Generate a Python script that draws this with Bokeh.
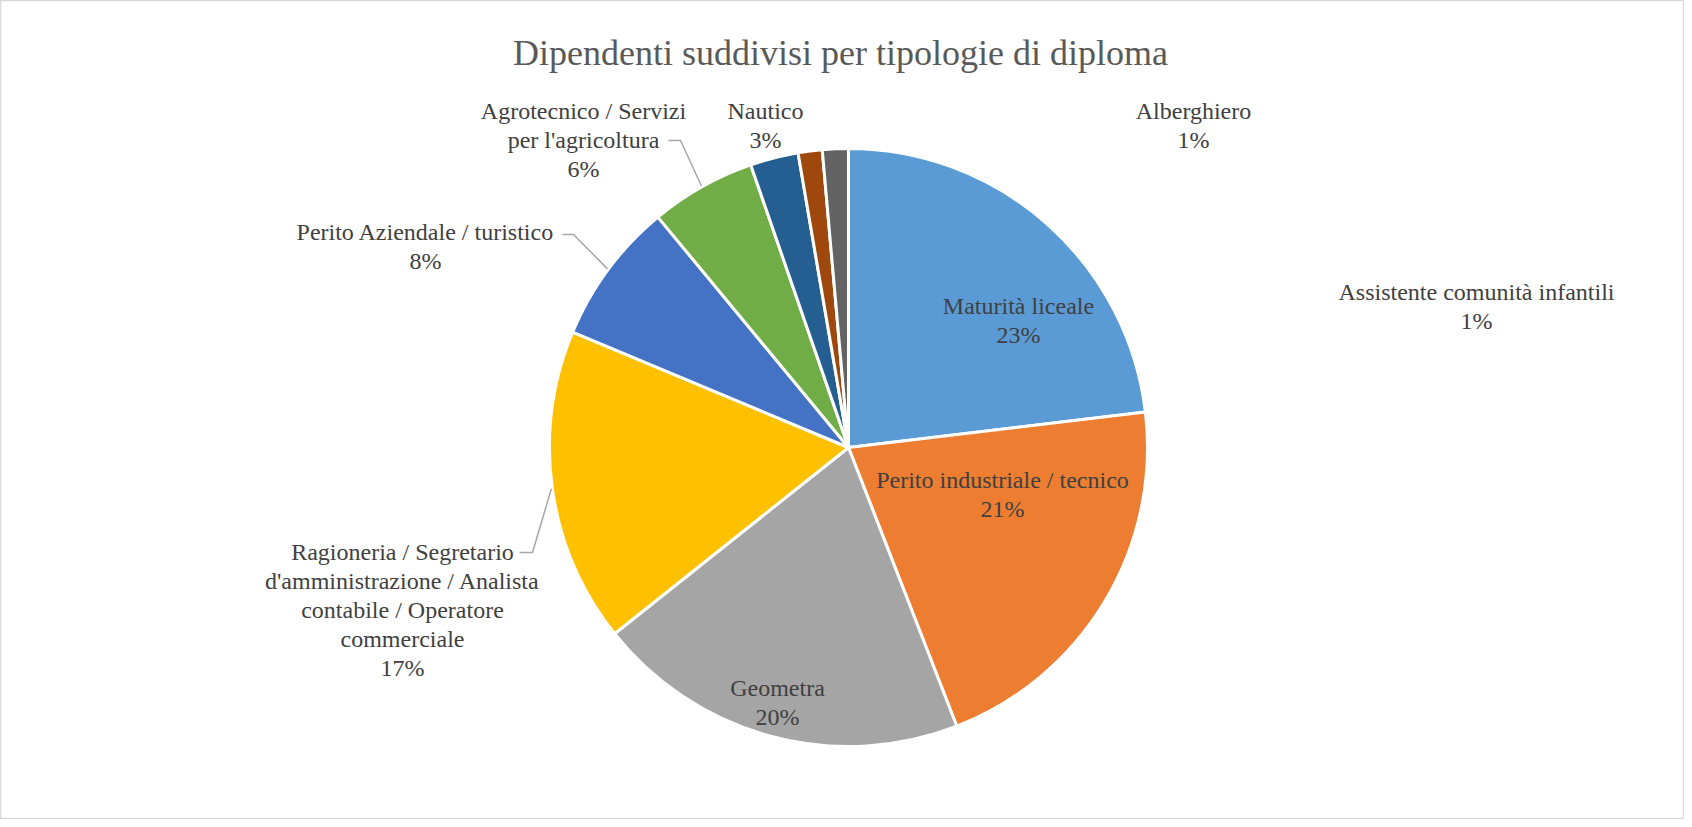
import numpy as np
from bokeh.plotting import figure
from bokeh.models import ColumnDataSource, Range1d
from bokeh.core.properties import value
from bokeh.embed import file_html
from bokeh.resources import INLINE

# ---------------- data ----------------
categories = [
    "Maturità liceale",
    "Perito industriale / tecnico",
    "Geometra",
    "Ragioneria / Segretario\nd'amministrazione / Analista\ncontabile / Operatore\ncommerciale",
    "Perito Aziendale / turistico",
    "Agrotecnico / Servizi\nper l'agricoltura",
    "Nautico",
    "Alberghiero",
    "Assistente comunità infantili",
]
shares = [23.1, 21.0, 20.2, 17.0, 7.7, 5.7, 2.6, 1.3, 1.4]
colors = ["#5B9BD5", "#ED7D31", "#A5A5A5", "#FFC000", "#4472C4",
          "#70AD47", "#255E91", "#9E480E", "#636363"]
title_text = "Dipendenti suddivisi per tipologie di diploma"

# ---------------- layout (reference pixel coords, y down) ----------------
W, H = 1684, 819
CX, CY, R = 848, 447, 299
LINE_H = 29
label_anchor = [(1018, 305), (1002, 479), (777, 687), (402, 551), (425, 231),
                (583, 110), (765, 110), (1193, 110), (1476, 291)]
# leader line start points (label side) per category index
leaders = {3: [(519, 552), (532, 552)],
           4: [(562, 234), (573, 234)],
           5: [(668, 140), (680, 140)]}

def Y(y):
    return H - y  # convert y-down pixel to y-up data

p = figure(width=W, height=H, output_backend="svg", toolbar_location=None,
           x_range=Range1d(0, W), y_range=Range1d(0, H),
           min_border=0, background_fill_color="white",
           border_fill_color="white", outline_line_color="#D9D9D9",
           outline_line_width=1.5)
p.axis.visible = False
p.grid.visible = False

vals = np.array(shares, dtype=float)
frac = vals / vals.sum()
cum = np.cumsum(frac)
before = cum - frac
start = np.pi / 2 - 2 * np.pi * before
end = np.pi / 2 - 2 * np.pi * cum
mid = (start + end) / 2

src = ColumnDataSource(dict(start=start, end=end, color=colors, cat=categories))
p.wedge(x=CX, y=Y(CY), radius=R, start_angle="start", end_angle="end",
        direction="clock", fill_color="color", line_color="white",
        line_width=3, source=src)

# leader lines
for i, pts in leaders.items():
    ex = CX + (R + 1) * np.cos(mid[i])
    ey = Y(CY) + (R + 1) * np.sin(mid[i])
    xs = [pt[0] for pt in pts] + [ex]
    ys = [Y(pt[1]) for pt in pts] + [ey]
    p.line(xs, ys, line_color="#A6A6A6", line_width=1.5)

# labels
tx, ty, tt = [], [], []
for i, cat in enumerate(categories):
    lines = cat.split("\n") + [f"{round(shares[i])}%"]
    ax, ay = label_anchor[i]
    for k, ln in enumerate(lines):
        tx.append(ax)
        ty.append(Y(ay + k * LINE_H))
        tt.append(ln)
p.text(x=tx, y=ty, text=tt, text_font=value("Liberation Serif"),
       text_font_size="24px", text_color="#404040", text_align="center",
       text_baseline="middle")

p.text(x=[840], y=[Y(52)], text=[title_text], text_font=value("Liberation Serif"),
       text_font_size="36px", text_color="#595959", text_align="center",
       text_baseline="middle")

open("out.html", "w").write(file_html(p, INLINE))
